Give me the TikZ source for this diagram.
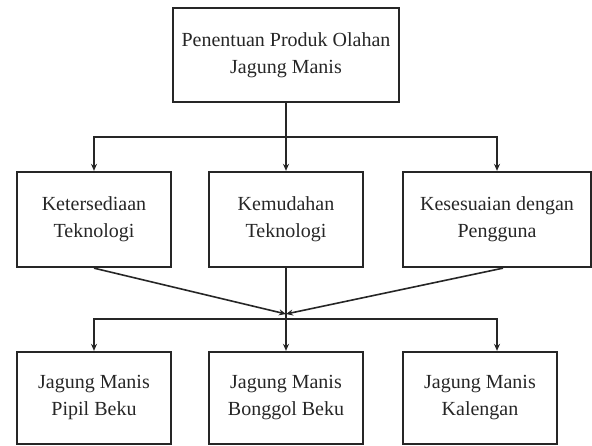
\documentclass[tikz,border=0pt]{standalone}
\usepackage{fontspec}
\setmainfont{Liberation Serif}
\usetikzlibrary{arrows.meta, calc}

\begin{document}
\begin{tikzpicture}[x=1pt, y=-1pt, >={Stealth[length=7pt, width=6pt]},
  box/.style={draw=black!85, line width=2.3pt, align=center, inner sep=0pt, minimum width=154pt, font=\fontsize{20}{27}\selectfont, text=black!85},
  link/.style={draw=black!85, line width=1.6pt}]
  \useasboundingbox (0,0) rectangle (592,446);
  \node[box, minimum width=226pt, minimum height=94pt] (produk) at (286,55) {Penentuan Produk Olahan\\Jagung Manis};
  \node[box, minimum height=95pt] (sedia) at (94,219.5) {Ketersediaan\\Teknologi};
  \node[box, minimum height=95pt] (mudah) at (286,219.5) {Kemudahan\\Teknologi};
  \node[box, minimum width=188pt, minimum height=95pt] (sesuai) at (497,219.5) {Kesesuaian dengan\\Pengguna};
  \node[box, minimum height=92pt] (pipil) at (94,398) {Jagung Manis\\Pipil Beku};
  \node[box, minimum height=92pt] (bonggol) at (286,398) {Jagung Manis\\Bonggol Beku};
  \node[box, minimum height=92pt] (kaleng) at (480,398) {Jagung Manis\\Kalengan};
  \coordinate (atas) at (286,137);
  \coordinate (temu) at (286,314);
  \coordinate (bawah) at (286,319);
  % dari penentuan ke tiga kriteria
  \draw[link] (produk.south) -- (atas);
  \draw[link, ->] (atas) -| (sedia.north);
  \draw[link, ->] (atas) -- (mudah.north);
  \draw[link, ->] (atas) -| (sesuai.north);
  % kriteria bertemu
  \draw[link, ->] (sedia.south) -- (temu);
  \draw[link, ->] ($(sesuai.south)+(6,0)$) -- (temu);
  \draw[link] (mudah.south) -- (bawah);
  % ke tiga produk
  \draw[link, ->] (bawah) -| (pipil.north);
  \draw[link, ->] (bawah) -- (bonggol.north);
  \draw[link, ->] (bawah) -| (kaleng.north -| sesuai.south);
\end{tikzpicture}
\end{document}
